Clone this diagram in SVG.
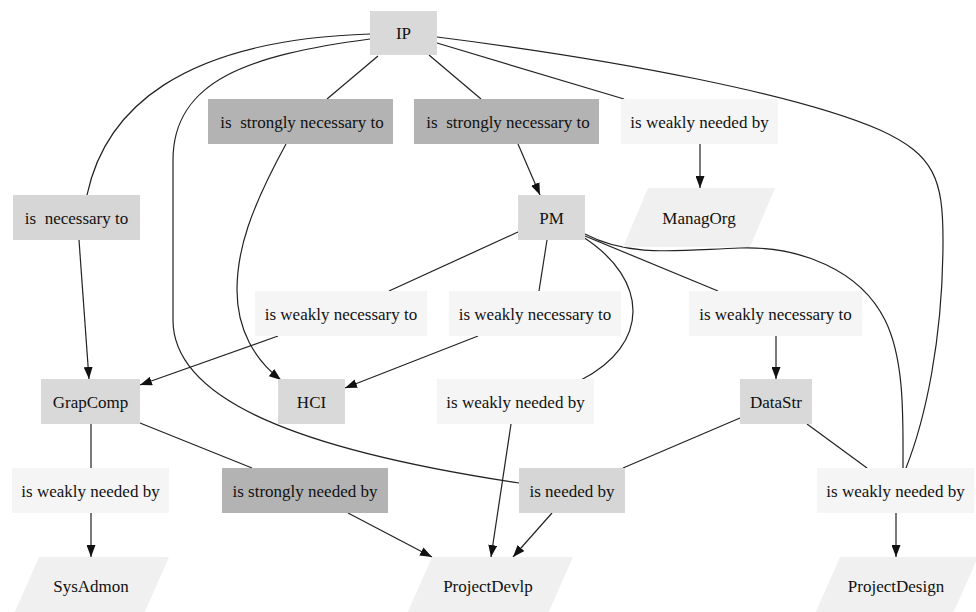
<svg xmlns="http://www.w3.org/2000/svg" width="976" height="612" viewBox="0 0 976 612">
<style>
  text { font-family: "Liberation Serif", "Times New Roman", serif; font-size: 17px; fill: #111; text-anchor: middle; white-space: pre; }
  .e { fill: none; stroke: #222; stroke-width: 1.2; }
  .a { marker-end: url(#arr); }
  .n1 { fill: #d9d9d9; }
  .s { fill: #b3b3b3; }
  .m { fill: #d6d6d6; }
  .w { fill: #f5f5f5; }
  .p { fill: #f0f0f0; }
</style>
<defs>
  <marker id="arr" markerUnits="userSpaceOnUse" markerWidth="12" markerHeight="9" viewBox="0 0 12 9" refX="12" refY="4.5" orient="auto">
    <path d="M0,0 L12,4.5 L0,9 z" fill="#111"/>
  </marker>
</defs>
<rect width="976" height="612" fill="#fff"/>
<g id="edges">
  <path class="e" d="M370,34 C180,40 105,110 87,195"/>
  <path class="e a" d="M79,240 L89,379"/>
  <path class="e" d="M370,39 C250,55 173,80 173,160 L173,320 C173,400 300,450 519,483"/>
  <path class="e" d="M378,56 L327,99"/>
  <path class="e a" d="M286,144 C250,210 237,250 237,290 C237,330 255,360 281,380"/>
  <path class="e" d="M429,55 L481,99"/>
  <path class="e a" d="M518,144 L540,195"/>
  <path class="e" d="M437,43 L624,99"/>
  <path class="e a" d="M700,144 L700,188"/>
  <path class="e" d="M437,37 C620,60 800,95 880,130 C935,155 943,180 943,240 C943,340 925,420 906,468"/>
  <path class="e" d="M518,232 L389,291"/>
  <path class="e a" d="M278,336 L140,385"/>
  <path class="e" d="M547,240 L539,291"/>
  <path class="e a" d="M478,336 L345,388"/>
  <path class="e" d="M583,237 C650,280 650,345 581,380"/>
  <path class="e a" d="M511,424 L491,557"/>
  <path class="e" d="M585,236 L718,291"/>
  <path class="e a" d="M776,336 L776,379"/>
  <path class="e" d="M585,234 C630,258 680,250 740,248 C800,246 860,270 885,320 C905,360 903,420 903,468"/>
  <path class="e" d="M740,418 L623,468"/>
  <path class="e a" d="M552,513 L513,557"/>
  <path class="e" d="M807,424 L867,468"/>
  <path class="e a" d="M896,513 L896,557"/>
  <path class="e" d="M91,424 L91,468"/>
  <path class="e a" d="M91,513 L91,557"/>
  <path class="e" d="M140,423 L252,468"/>
  <path class="e a" d="M348,513 L432,557"/>
</g>
<g id="IP"><rect class="n1" x="370" y="11" width="67" height="44"/><text x="403.5" y="39">IP</text></g>
<g id="lbl_strong1"><rect class="s" x="208" y="99" width="185" height="45"/><text x="302" y="127.5">is  strongly necessary to</text></g>
<g id="lbl_strong2"><rect class="s" x="414" y="99" width="185" height="45"/><text x="508" y="127.5">is  strongly necessary to</text></g>
<g id="lbl_wneed_top"><rect class="w" x="621" y="99" width="157" height="45"/><text x="699.5" y="127.5">is weakly needed by</text></g>
<g id="lbl_nec"><rect class="m" x="13" y="195" width="127" height="45"/><text x="76.5" y="223.5">is  necessary to</text></g>
<g id="PM"><rect class="n1" x="518" y="195" width="67" height="45"/><text x="551.5" y="223.5">PM</text></g>
<g id="ManagOrg"><polygon class="p" points="648,188 775,188 750,247 623,247"/><text x="699" y="223.5">ManagOrg</text></g>
<g id="lbl_wnec1"><rect class="w" x="255" y="291" width="172" height="45"/><text x="341" y="319.5">is weakly necessary to</text></g>
<g id="lbl_wnec2"><rect class="w" x="449" y="291" width="172" height="45"/><text x="535" y="319.5">is weakly necessary to</text></g>
<g id="lbl_wnec3"><rect class="w" x="689" y="291" width="173" height="45"/><text x="775.5" y="319.5">is weakly necessary to</text></g>
<g id="GrapComp"><rect class="n1" x="41" y="379" width="99" height="45"/><text x="90.5" y="407.5">GrapComp</text></g>
<g id="HCI"><rect class="n1" x="278" y="379" width="67" height="45"/><text x="311.5" y="407.5">HCI</text></g>
<g id="lbl_wneed_mid"><rect class="w" x="437" y="379" width="157" height="45"/><text x="515.5" y="407.5">is weakly needed by</text></g>
<g id="DataStr"><rect class="n1" x="740" y="379" width="72" height="45"/><text x="776" y="407.5">DataStr</text></g>
<g id="lbl_wneed_left"><rect class="w" x="12" y="468" width="157" height="45"/><text x="90.5" y="496.5">is weakly needed by</text></g>
<g id="lbl_sneed"><rect class="s" x="222" y="468" width="166" height="45"/><text x="305" y="496.5">is strongly needed by</text></g>
<g id="lbl_need"><rect class="m" x="519" y="468" width="106" height="45"/><text x="572" y="496.5">is needed by</text></g>
<g id="lbl_wneed_right"><rect class="w" x="817" y="468" width="157" height="45"/><text x="895.5" y="496.5">is weakly needed by</text></g>
<g id="SysAdmon"><polygon class="p" points="39,557 169,557 143,616 13,616"/><text x="91" y="592">SysAdmon</text></g>
<g id="ProjectDevlp"><polygon class="p" points="432,557 573,557 547,616 406,616"/><text x="488" y="592">ProjectDevlp</text></g>
<g id="ProjectDesign"><polygon class="p" points="840,557 978,557 952,616 814,616"/><text x="896" y="592">ProjectDesign</text></g>
</svg>
